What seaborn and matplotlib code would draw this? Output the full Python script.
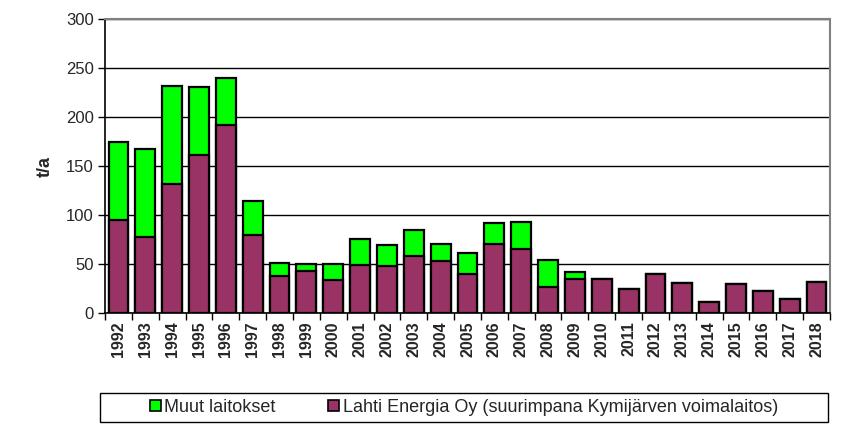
import numpy as np
import pandas as pd
import seaborn as sns
from matplotlib import pyplot as plt
from matplotlib.patches import Rectangle

years = [str(y) for y in range(1992, 2019)]
lahti = [95, 78, 132, 161, 192, 80, 38, 43, 34, 49, 48, 58, 53, 40,
         70, 65, 27, 35, 35, 24, 40, 31, 11, 30, 22, 14, 32]
muut = [79, 89, 100, 70, 48, 34, 13, 7, 16, 27, 21, 27, 17, 21,
        22, 28, 27, 7, 0, 0, 0, 0, 0, 0, 0, 0, 0]

green = '#00ff00'
purple = '#993366'

sns.set_style('white')
plt.rcParams['font.family'] = ['Liberation Sans', 'DejaVu Sans']

df = pd.DataFrame({'year': years, 'lahti': lahti, 'muut': muut})
df['total'] = df.lahti + df.muut

fig = plt.figure(figsize=(8.56, 4.38), dpi=100)
ax = fig.add_axes([0.1227, 0.2854, 0.8469, 0.6712])

# total in green, Lahti drawn over it -> stacked look
sns.barplot(data=df, x='year', y='total', color=green, saturation=1,
            edgecolor='black', linewidth=1.6, width=0.74, ax=ax, zorder=3)
sns.barplot(data=df, x='year', y='lahti', color=purple, saturation=1,
            edgecolor='black', linewidth=1.6, width=0.74, ax=ax, zorder=4)

ax.set_xlim(-0.5, len(years) - 0.5)
ax.set_ylim(0, 300)
ax.set_yticks(range(0, 301, 50))
ax.yaxis.grid(True, color='black', linewidth=1)
ax.set_axisbelow(True)

ax.set_xticks(range(len(years)))
ax.set_xticklabels(years, rotation=90, fontweight='bold', fontsize=11.5)
ax.tick_params(axis='x', length=0, pad=6)
ax.set_xticks(np.arange(-0.5, len(years), 1), minor=True)
ax.tick_params(axis='x', which='minor', length=5, width=1, color='black', direction='out')
ax.tick_params(axis='y', length=5, width=1, color='black', direction='out', labelsize=12, pad=3)
ax.xaxis.set_ticks_position('bottom')
ax.yaxis.set_ticks_position('left')

ax.set_xlabel('')
ax.set_ylabel('t/a', fontweight='bold', fontsize=13, labelpad=9)

for side in ['left', 'bottom']:
    ax.spines[side].set_color('black')
    ax.spines[side].set_linewidth(1.2)
for side in ['top', 'right']:
    ax.spines[side].set_color('#808080')
    ax.spines[side].set_linewidth(1.5)

handles = [Rectangle((0, 0), 1, 1, facecolor=green, edgecolor='black', linewidth=1.2),
           Rectangle((0, 0), 1, 1, facecolor=purple, edgecolor='black', linewidth=1.2)]
labels = ['Muut laitokset', 'Lahti Energia Oy (suurimpana Kymijärven voimalaitos)']
fig.legend(handles, labels, loc='center', bbox_to_anchor=(0.542, 0.0696), ncol=2,
           frameon=False, fontsize=13, handlelength=0.6, handleheight=0.6,
           handletextpad=0.2, columnspacing=2.9)
fig.patches.append(Rectangle((0.1168, 0.0365), 0.8505, 0.0662, transform=fig.transFigure,
                             fill=False, edgecolor='black', linewidth=1))

fig.savefig('out.png', dpi=100)
